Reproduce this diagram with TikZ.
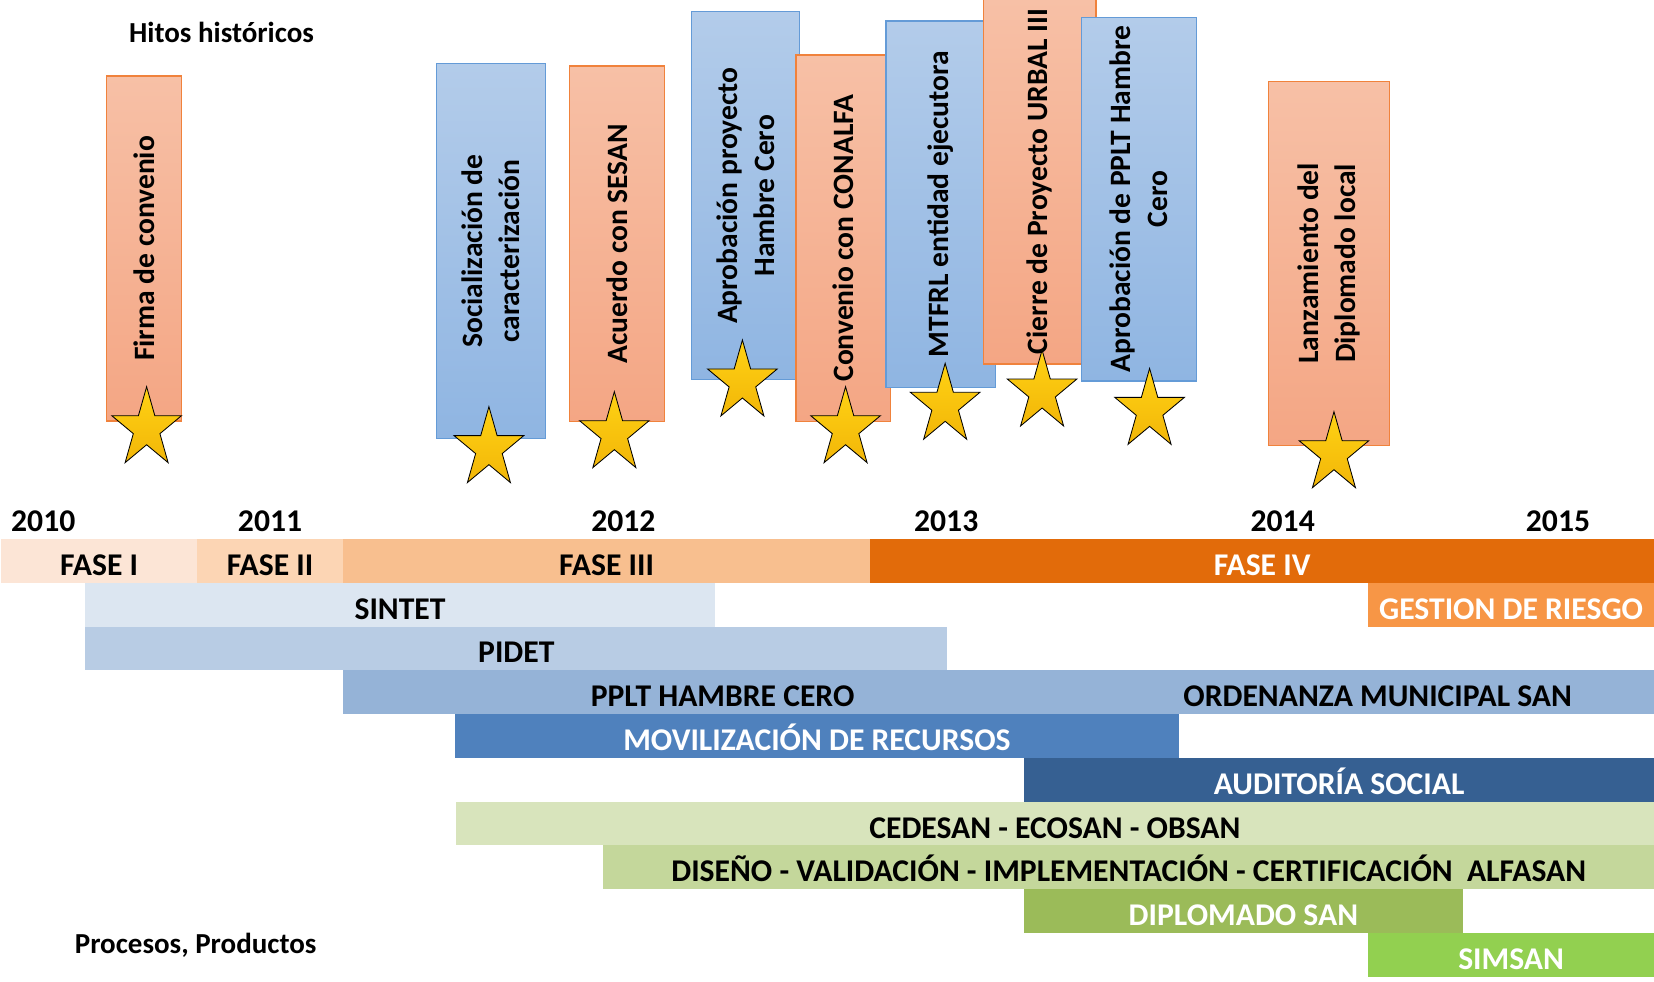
\documentclass[tikz,border=0pt]{standalone}
\usepackage{fontspec}
\setmainfont{Carlito}
\usetikzlibrary{shapes.geometric}
\definecolor{otop}{RGB}{247,192,166}
\definecolor{obot}{RGB}{244,166,132}
\definecolor{oedge}{RGB}{240,130,60}
\definecolor{btop}{RGB}{179,204,234}
\definecolor{bbot}{RGB}{143,181,226}
\definecolor{bedge}{RGB}{100,155,215}
\definecolor{stop}{RGB}{255,210,20}
\definecolor{sbot}{RGB}{242,182,8}
\definecolor{cfA}{RGB}{252,229,214}
\definecolor{cfB}{RGB}{252,213,180}
\definecolor{cfC}{RGB}{248,191,143}
\definecolor{cfD}{RGB}{226,107,10}
\definecolor{cSin}{RGB}{220,230,241}
\definecolor{cGes}{RGB}{247,150,70}
\definecolor{cPid}{RGB}{184,204,228}
\definecolor{cPpl}{RGB}{149,179,215}
\definecolor{cMov}{RGB}{79,129,189}
\definecolor{cAud}{RGB}{54,96,146}
\definecolor{cCed}{RGB}{216,228,188}
\definecolor{cDis}{RGB}{196,215,155}
\definecolor{cDip}{RGB}{155,187,89}
\definecolor{cSim}{RGB}{146,208,80}
\begin{document}
\begin{tikzpicture}[x=1pt,y=-1pt,
  obox/.style={draw=oedge,line width=1.2pt,top color=otop,bottom color=obot,inner sep=0pt,outer sep=0pt},
  bbox/.style={draw=bedge,line width=1.2pt,top color=btop,bottom color=bbot,inner sep=0pt,outer sep=0pt},
  vtext/.style={rotate=90,align=center,inner sep=0pt,font=\bfseries\fontsize{28}{35}\selectfont},
  hstar/.style={star,star points=5,star point ratio=2.618,minimum size=69.4pt,inner sep=0pt,outer sep=0pt,
    draw=black,line width=0.8pt,top color=stop,bottom color=sbot,yscale=1.147,transform shape},
  band/.style={anchor=north west,inner sep=0pt,outer sep=0pt,minimum height=41.5pt},
  lbl/.style={anchor=base,inner sep=0pt,font=\bfseries\fontsize{30}{36}\selectfont},
  wlbl/.style={lbl,text=white},
  hdr/.style={anchor=base,inner sep=0pt,font=\bfseries\fontsize{27.5}{33}\selectfont}]
\useasboundingbox (0,0) rectangle (1568,930);

% titles
\node[hdr] (hitos) at (210,40.5) {Hitos históricos};
\node[hdr] (proc) at (185.5,903.5) {Procesos, Productos};

% milestone boxes
\node[obox,minimum width=71pt,minimum height=327pt] (b1) at (136.5,235.5) {};
\node[vtext] (t1) at (b1.center) {Firma de convenio};
\node[bbox,minimum width=103pt,minimum height=356pt] (b2) at (465.5,238) {};
\node[vtext] (t2) at (b2.center) {Socialización de\\caracterización};
\node[obox,minimum width=90pt,minimum height=337pt] (b3) at (585,231) {};
\node[vtext] (t3) at (b3.center) {Acuerdo con SESAN};
\node[bbox,minimum width=102.5pt,minimum height=349pt] (b4) at (706.75,185.5) {};
\node[vtext] (t4) at (b4.center) {Aprobación proyecto\\Hambre Cero};
\node[obox,minimum width=89.5pt,minimum height=347pt] (b5) at (799.25,225.75) {};
\node[vtext] (t5) at (b5.center) {Convenio con CONALFA};
\node[bbox,minimum width=104pt,minimum height=347pt] (b6) at (892,193.5) {};
\node[vtext] (t6) at (b6.center) {MTFRL entidad ejecutora};
\node[obox,minimum width=106.5pt,minimum height=346pt] (b7) at (985.75,172) {};
\node[vtext] (t7) at (b7.center) {Cierre de Proyecto URBAL III};
\node[bbox,minimum width=109pt,minimum height=345pt] (b8) at (1079.5,188.75) {};
\node[vtext] (t8) at (b8.center) {Aprobación de PPLT Hambre\\Cero};
\node[obox,minimum width=114.5pt,minimum height=345.5pt] (b9) at (1259.75,249.75) {};
\node[vtext] (t9) at (b9.center) {Lanzamiento del\\Diplomado local};

% stars
\node[hstar] (s1) at (139,406.4) {};
\node[hstar] (s2) at (463.5,425.3) {};
\node[hstar] (s3) at (582.4,411.1) {};
\node[hstar] (s4) at (703.8,362.1) {};
\node[hstar] (s5) at (801.6,406.4) {};
\node[hstar] (s6) at (896,384.2) {};
\node[hstar] (s7) at (987.9,371.6) {};
\node[hstar] (s8) at (1089.8,389) {};
\node[hstar] (s9) at (1264.6,430.1) {};

% years
\node[lbl] (y10) at (41,504) {2010};
\node[lbl] (y11) at (256,504) {2011};
\node[lbl] (y12) at (591,504) {2012};
\node[lbl] (y13) at (897,504) {2013};
\node[lbl] (y14) at (1216,504) {2014};
\node[lbl] (y15) at (1477,504) {2015};

% phases
\node[band,fill=cfA,minimum width=186pt] (f1) at (1,511) {};
\node[band,fill=cfB,minimum width=138pt] (f2) at (187,511) {};
\node[band,fill=cfC,minimum width=500pt] (f3) at (325,511) {};
\node[band,fill=cfD,minimum width=743pt] (f4) at (825,511) {};
\node[lbl] (lf1) at ([yshift=7pt]f1.south) {FASE I};
\node[lbl] (lf2) at ([yshift=7pt]f2.south) {FASE II};
\node[lbl] (lf3) at ([yshift=7pt]f3.south) {FASE III};
\node[wlbl] (lf4) at ([yshift=7pt]f4.south) {FASE IV};

% processes
\node[band,fill=cSin,minimum width=596.5pt] (p1) at (81,552.5) {};
\node[lbl] (lp1) at ([yshift=7pt]p1.south) {SINTET};
\node[band,fill=cGes,minimum width=271pt] (p2) at (1297,552.5) {};
\node[wlbl] (lp2) at ([yshift=7pt]p2.south) {GESTION DE RIESGO};
\node[band,fill=cPid,minimum width=817pt] (p3) at (81,594) {};
\node[lbl] (lp3) at ([yshift=7pt]p3.south) {PIDET};
\node[band,fill=cPpl,minimum width=1243pt] (p4) at (325,635.5) {};
\node[lbl] (lp4a) at (685,670) {PPLT HAMBRE CERO};
\node[lbl] (lp4b) at (1306,670) {ORDENANZA MUNICIPAL SAN};
\node[band,fill=cMov,minimum width=686pt] (p5) at (431.5,677) {};
\node[wlbl] (lp5) at ([yshift=7pt]p5.south) {MOVILIZACIÓN DE RECURSOS};
\node[band,fill=cAud,minimum width=597pt] (p6) at (971,718.5) {};
\node[wlbl] (lp6) at ([yshift=7pt]p6.south) {AUDITORÍA SOCIAL};
\node[band,fill=cCed,minimum width=1136pt] (p7) at (432,760) {};
\node[lbl] (lp7) at ([yshift=7pt]p7.south) {CEDESAN - ECOSAN - OBSAN};
\node[band,fill=cDis,minimum width=996pt] (p8) at (572,801.5) {};
\node[lbl] (lp8) at ([yshift=7pt]p8.south) {DISEÑO - VALIDACIÓN - IMPLEMENTACIÓN - CERTIFICACIÓN\ \ ALFASAN};
\node[band,fill=cDip,minimum width=415.5pt] (p9) at (971,843) {};
\node[wlbl] (lp9) at ([yshift=7pt]p9.south) {DIPLOMADO SAN};
\node[band,fill=cSim,minimum width=271pt] (p10) at (1297,884.5) {};
\node[wlbl] (lp10) at ([yshift=7pt]p10.south) {SIMSAN};
\end{tikzpicture}
\end{document}
